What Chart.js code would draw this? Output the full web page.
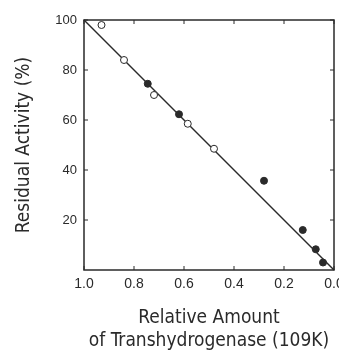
<!DOCTYPE html>
<html>
<head>
<meta charset="utf-8">
<script src="https://cdn.jsdelivr.net/npm/chart.js@4/dist/chart.umd.min.js"></script>
<style>
  html, body { margin: 0; padding: 0; background: #fff; }
  #wrap { width: 339px; height: 352px; position: relative; }
</style>
</head>
<body>
<div id="wrap"><canvas id="chart"></canvas></div>
<script>
// open circles
const openX = [0.93, 0.84, 0.72, 0.585, 0.48];
const openY = [98, 84, 70, 58.5, 48.5];
// filled circles
const filledX = [0.745, 0.62, 0.28, 0.125, 0.073, 0.044];
const filledY = [74.5, 62.3, 35.7, 16, 8.3, 3];
// fitted line
const fitX = [1.0, 0.0];
const fitY = [100, 0];

const xTicks = [1.0, 0.8, 0.6, 0.4, 0.2, 0.0];
const yTicks = [20, 40, 60, 80, 100];

const ink = '#2a2a2a';
const pts = (xs, ys) => xs.map((x, i) => ({ x: x, y: ys[i] }));

// frame with inward ticks on all four sides
const framePlugin = {
    id: 'frame',
    afterDatasetsDraw(chart) {
        const { ctx, chartArea: a, scales } = chart;
        ctx.save();
        ctx.strokeStyle = ink;
        ctx.lineWidth = 1.5;
        ctx.strokeRect(a.left, a.top, a.right - a.left, a.bottom - a.top);
        ctx.lineWidth = 1;
        ctx.beginPath();
        xTicks.forEach(v => {
            const px = scales.x.getPixelForValue(v);
            ctx.moveTo(px, a.bottom); ctx.lineTo(px, a.bottom - 4);
            ctx.moveTo(px, a.top); ctx.lineTo(px, a.top + 4);
        });
        yTicks.forEach(v => {
            const py = scales.y.getPixelForValue(v);
            ctx.moveTo(a.left, py); ctx.lineTo(a.left + 4, py);
            ctx.moveTo(a.right, py); ctx.lineTo(a.right - 4, py);
        });
        ctx.stroke();
        ctx.restore();
    }
};

new Chart(document.getElementById('chart'), {
    type: 'scatter',
    data: {
        datasets: [
            { type: 'line', data: pts(fitX, fitY), borderColor: ink, borderWidth: 1.5, pointRadius: 0, fill: false, clip: false, order: 3 },
            { data: pts(openX, openY), pointRadius: 3.5, pointBackgroundColor: '#fff', pointBorderColor: ink, pointBorderWidth: 1, clip: false, order: 1 },
            { data: pts(filledX, filledY), pointRadius: 3.5, pointBackgroundColor: ink, pointBorderColor: ink, pointBorderWidth: 1, clip: false, order: 2 }
        ]
    },
    options: {
        responsive: true, maintainAspectRatio: false, animation: false,
        layout: { padding: { left: 0, top: 20, right: 4, bottom: 0 } },
        plugins: { legend: { display: false }, tooltip: { enabled: false } },
        scales: {
            x: {
                type: 'linear', reverse: true, min: 0, max: 1,
                afterBuildTicks: s => { s.ticks = xTicks.map(v => ({ value: v })); },
                afterFit: s => { s.height = 82; s.paddingLeft = 0; s.paddingRight = 0; },
                grid: { display: false, drawTicks: false },
                border: { display: false },
                ticks: { color: ink, padding: 6, maxRotation: 0, font: { family: "'Liberation Sans', Arial, sans-serif", size: 14 }, callback: v => v.toFixed(1) },
                title: { display: true, text: ['Relative Amount', 'of Transhydrogenase (109K)'], color: ink, padding: { top: 0, bottom: 0 }, font: { family: "'Liberation Sans Narrow', 'DejaVu Sans Condensed', sans-serif", size: 19, lineHeight: 1.2 } }
            },
            y: {
                type: 'linear', min: 0, max: 100,
                afterBuildTicks: s => { s.ticks = yTicks.map(v => ({ value: v })); },
                afterFit: s => { s.width = 84; s.paddingTop = 0; s.paddingBottom = 0; },
                grid: { display: false, drawTicks: false },
                border: { display: false },
                ticks: { color: ink, padding: 7, font: { family: "'Liberation Sans', Arial, sans-serif", size: 13 } },
                title: { display: true, text: 'Residual Activity (%)', color: ink, padding: { top: 13, bottom: 0 }, font: { family: "'Liberation Sans Narrow', 'DejaVu Sans Condensed', sans-serif", size: 19 } }
            }
        }
    },
    plugins: [framePlugin]
});
</script>
</body>
</html>
